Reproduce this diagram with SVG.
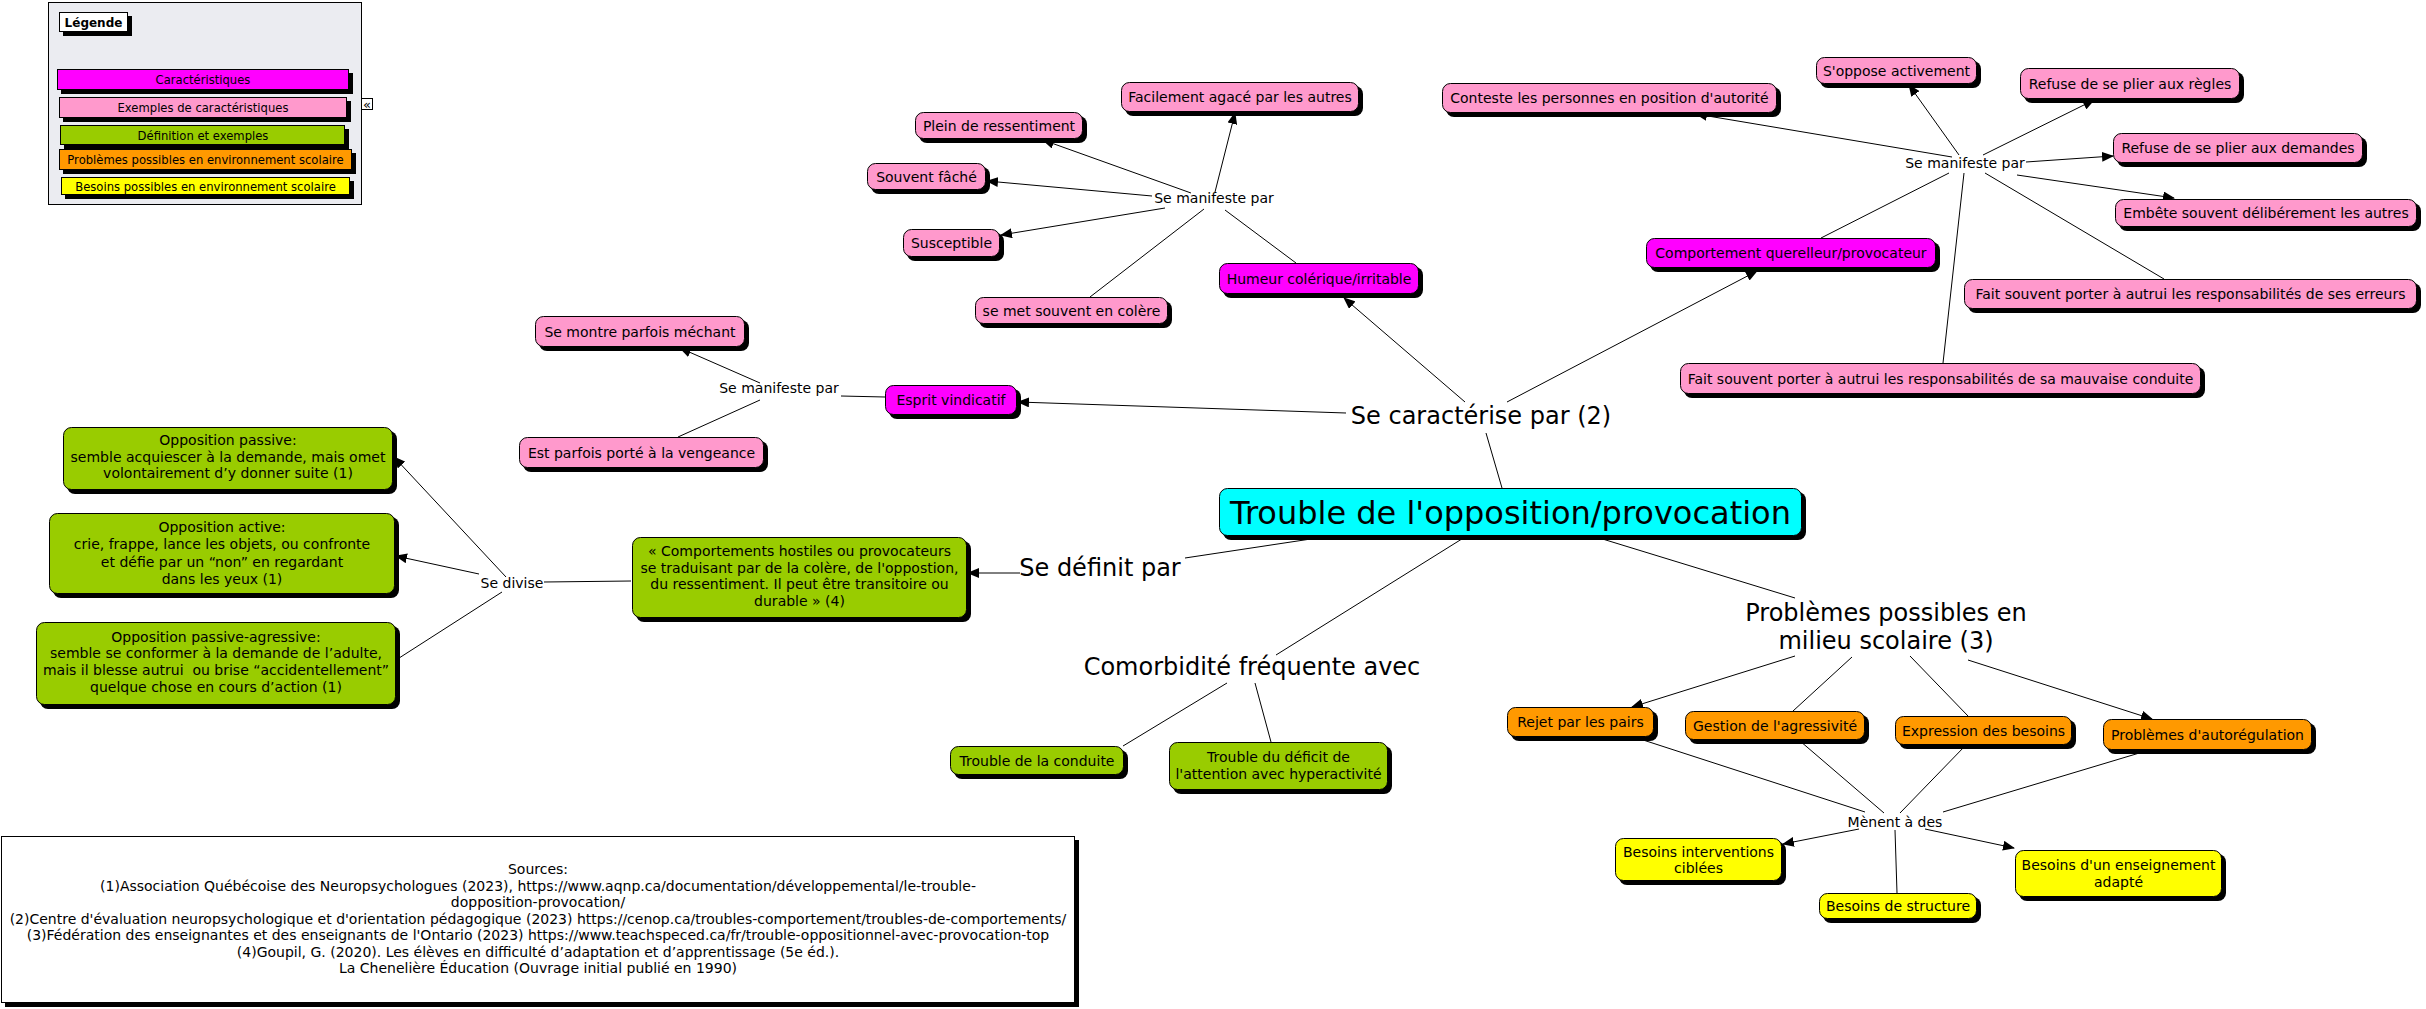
<svg xmlns="http://www.w3.org/2000/svg" width="2426" height="1009" viewBox="0 0 2426 1009">
<defs>
<style>
text{font-family:"DejaVu Sans",Verdana,"Liberation Sans",sans-serif;font-size:14px;fill:#000;text-anchor:middle}
.big{font-size:24px}
.huge{font-size:32px}
.lg{font-size:11.6px}
.sh{fill:#000}
.b{stroke:#000;stroke-width:1}
.mag{fill:#FF00FF}
.pink{fill:#FF99CC}
.grn{fill:#99CC00}
.org{fill:#FF9900}
.yel{fill:#FFFF00}
.cyan{fill:#00FFFF}
.wht{fill:#FFFFFF}
#connectors line{stroke:#000;stroke-width:1;fill:none}
#connectors line.a{marker-end:url(#arr)}
</style>
<marker id="arr" markerWidth="12" markerHeight="10" refX="11" refY="5" orient="auto" markerUnits="userSpaceOnUse">
<path d="M0,0 L12,5 L0,10 z" fill="#000"/>
</marker>
</defs>
<rect x="0" y="0" width="2426" height="1009" fill="#FFFFFF"/>

<!-- Legend -->
<g id="legend">
<rect x="48.5" y="2.5" width="313" height="202" fill="#EBECF1" stroke="#000"/>
<rect class="sh" x="63" y="16" width="69" height="20"/>
<rect class="b wht" x="59.5" y="12.5" width="68" height="19"/>
<text x="93.5" y="27" style="font-weight:bold;font-size:12px">Légende</text>
<rect class="sh" x="61" y="73" width="292" height="21"/>
<rect class="b mag" x="57.5" y="69.5" width="291" height="20"/>
<text class="lg" x="203" y="84">Caractéristiques</text>
<rect class="sh" x="63" y="101" width="288" height="21"/>
<rect class="b pink" x="59.5" y="97.5" width="287" height="20"/>
<text class="lg" x="203" y="112">Exemples de caractéristiques</text>
<rect class="sh" x="64" y="129" width="285" height="20"/>
<rect class="b grn" x="60.5" y="125.5" width="284" height="19"/>
<text class="lg" x="203" y="139.5">Définition et exemples</text>
<rect class="sh" x="63" y="153" width="293" height="21"/>
<rect class="b org" x="59.5" y="149.5" width="292" height="20"/>
<text class="lg" x="205.5" y="164">Problèmes possibles en environnement scolaire</text>
<rect class="sh" x="65" y="181" width="289" height="18"/>
<rect class="b yel" x="61.5" y="177.5" width="288" height="17"/>
<text class="lg" x="205.5" y="190.5">Besoins possibles en environnement scolaire</text>
<rect x="361.5" y="98.5" width="11" height="11" fill="#FFF" stroke="#000"/>
<text x="367" y="108.5" style="font-size:13px">«</text>
</g>

<!-- Connectors -->
<g id="connectors">
<line x1="1296" y1="263" x2="1225" y2="210"/>
<line class="a" x1="1191" y1="193" x2="1043" y2="140"/>
<line class="a" x1="1215" y1="192" x2="1235" y2="113"/>
<line class="a" x1="1152" y1="196" x2="987" y2="181"/>
<line class="a" x1="1165" y1="208" x2="1001" y2="235"/>
<line x1="1204" y1="209" x2="1090" y2="297"/>

<line x1="1821" y1="238" x2="1949" y2="173"/>
<line class="a" x1="1952" y1="157" x2="1696" y2="114"/>
<line class="a" x1="1959" y1="155" x2="1909" y2="85"/>
<line class="a" x1="1983" y1="155" x2="2094" y2="100"/>
<line class="a" x1="2026" y1="162" x2="2113" y2="156"/>
<line class="a" x1="2017" y1="175" x2="2174" y2="198"/>
<line x1="1985" y1="173" x2="2164" y2="279"/>
<line x1="1964" y1="173" x2="1943" y2="363"/>

<line x1="885" y1="397" x2="841" y2="396"/>
<line class="a" x1="760" y1="383" x2="680" y2="348"/>
<line x1="760" y1="400" x2="678" y2="437"/>

<line x1="1502" y1="488" x2="1486" y2="433"/>
<line class="a" x1="1346" y1="413" x2="1018" y2="402"/>
<line class="a" x1="1465" y1="402" x2="1344" y2="298"/>
<line class="a" x1="1507" y1="402" x2="1757" y2="271"/>

<line x1="1324" y1="537" x2="1185" y2="558"/>
<line class="a" x1="1020" y1="573" x2="968" y2="573"/>
<line x1="631" y1="581" x2="544" y2="582"/>
<line class="a" x1="506" y1="577" x2="394" y2="457"/>
<line class="a" x1="479" y1="574" x2="396" y2="556"/>
<line x1="502" y1="592" x2="396" y2="660"/>

<line x1="1465" y1="537" x2="1276" y2="655"/>
<line x1="1227" y1="683" x2="1123" y2="746"/>
<line x1="1255" y1="683" x2="1271" y2="742"/>

<line x1="1596" y1="537" x2="1795" y2="598"/>
<line class="a" x1="1795" y1="656" x2="1632" y2="707"/>
<line x1="1852" y1="657" x2="1793" y2="711"/>
<line x1="1910" y1="656" x2="1968" y2="716"/>
<line class="a" x1="1968" y1="660" x2="2152" y2="719"/>

<line x1="1637" y1="738" x2="1865" y2="812"/>
<line x1="1800" y1="741" x2="1884" y2="813"/>
<line x1="1965" y1="746" x2="1900" y2="813"/>
<line x1="2146" y1="751" x2="1943" y2="812"/>
<line class="a" x1="1859" y1="829" x2="1783" y2="844"/>
<line x1="1895" y1="830" x2="1897" y2="893"/>
<line class="a" x1="1925" y1="829" x2="2014" y2="848"/>
</g>

<!-- Linking phrases -->
<g id="lp-manifeste-1"><text x="1214" y="203">Se manifeste par</text></g>
<g id="lp-manifeste-2"><text x="1965" y="168">Se manifeste par</text></g>
<g id="lp-manifeste-3"><text x="779" y="393">Se manifeste par</text></g>
<g id="lp-caracterise"><text class="big" x="1481" y="424">Se caractérise par (2)</text></g>
<g id="lp-definit"><text class="big" x="1100" y="576">Se définit par</text></g>
<g id="lp-divise"><text x="512" y="588">Se divise</text></g>
<g id="lp-comorbidite"><text class="big" x="1252" y="675">Comorbidité fréquente avec</text></g>
<g id="lp-problemes"><text class="big" x="1886" y="621">Problèmes possibles en</text><text class="big" x="1886" y="649">milieu scolaire (3)</text></g>
<g id="lp-menent"><text x="1895" y="827">Mènent à des</text></g>

<!-- Nodes -->
<g id="n-central">
<rect class="sh" x="1223" y="492" width="583" height="48" rx="8"/>
<rect class="b cyan" x="1219.5" y="488.5" width="582" height="47" rx="8"/>
<text class="huge" x="1510.5" y="523.5">Trouble de l'opposition/provocation</text>
</g>

<g id="n-facilement">
<rect class="sh" x="1125" y="86" width="238" height="30" rx="8"/>
<rect class="b pink" x="1121.5" y="82.5" width="237" height="29" rx="8"/>
<text x="1240" y="102">Facilement agacé par les autres</text>
</g>
<g id="n-plein">
<rect class="sh" x="919" y="116" width="168" height="27" rx="8"/>
<rect class="b pink" x="915.5" y="112.5" width="167" height="26" rx="8"/>
<text x="999" y="130.5">Plein de ressentiment</text>
</g>
<g id="n-fache">
<rect class="sh" x="871" y="167" width="119" height="27" rx="8"/>
<rect class="b pink" x="867.5" y="163.5" width="118" height="26" rx="8"/>
<text x="926.5" y="181.5">Souvent fâché</text>
</g>
<g id="n-susceptible">
<rect class="sh" x="907" y="233" width="97" height="28" rx="8"/>
<rect class="b pink" x="903.5" y="229.5" width="96" height="27" rx="8"/>
<text x="951.5" y="248">Susceptible</text>
</g>
<g id="n-colere">
<rect class="sh" x="979" y="301" width="193" height="27" rx="8"/>
<rect class="b pink" x="975.5" y="297.5" width="192" height="26" rx="8"/>
<text x="1071.5" y="315.5">se met souvent en colère</text>
</g>
<g id="n-humeur">
<rect class="sh" x="1223" y="267" width="200" height="31" rx="8"/>
<rect class="b mag" x="1219.5" y="263.5" width="199" height="30" rx="8"/>
<text x="1319" y="283.5">Humeur colérique/irritable</text>
</g>

<g id="n-conteste">
<rect class="sh" x="1446" y="87" width="335" height="30" rx="8"/>
<rect class="b pink" x="1442.5" y="83.5" width="334" height="29" rx="8"/>
<text x="1609.5" y="103">Conteste les personnes en position d'autorité</text>
</g>
<g id="n-oppose">
<rect class="sh" x="1820" y="61" width="161" height="27" rx="8"/>
<rect class="b pink" x="1816.5" y="57.5" width="160" height="26" rx="8"/>
<text x="1896.5" y="75.5">S'oppose activement</text>
</g>
<g id="n-regles">
<rect class="sh" x="2024" y="72" width="220" height="31" rx="8"/>
<rect class="b pink" x="2020.5" y="68.5" width="219" height="30" rx="8"/>
<text x="2130" y="88.5">Refuse de se plier aux règles</text>
</g>
<g id="n-demandes">
<rect class="sh" x="2117" y="137" width="250" height="30" rx="8"/>
<rect class="b pink" x="2113.5" y="133.5" width="249" height="29" rx="8"/>
<text x="2238" y="153">Refuse de se plier aux demandes</text>
</g>
<g id="n-embete">
<rect class="sh" x="2119" y="203" width="302" height="28" rx="8"/>
<rect class="b pink" x="2115.5" y="199.5" width="301" height="27" rx="8"/>
<text x="2266" y="218">Embête souvent délibérement les autres</text>
</g>
<g id="n-erreurs">
<rect class="sh" x="1968" y="283" width="453" height="30" rx="8"/>
<rect class="b pink" x="1964.5" y="279.5" width="452" height="29" rx="8"/>
<text x="2190.5" y="299">Fait souvent porter à autrui les responsabilités de ses erreurs</text>
</g>
<g id="n-conduite-mauvaise">
<rect class="sh" x="1684" y="367" width="521" height="31" rx="8"/>
<rect class="b pink" x="1680.5" y="363.5" width="520" height="30" rx="8"/>
<text x="1940.5" y="383.5">Fait souvent porter à autrui les responsabilités de sa mauvaise conduite</text>
</g>
<g id="n-comportement">
<rect class="sh" x="1650" y="242" width="290" height="30" rx="8"/>
<rect class="b mag" x="1646.5" y="238.5" width="289" height="29" rx="8"/>
<text x="1791" y="258">Comportement querelleur/provocateur</text>
</g>

<g id="n-mechant">
<rect class="sh" x="539" y="320" width="210" height="31" rx="8"/>
<rect class="b pink" x="535.5" y="316.5" width="209" height="30" rx="8"/>
<text x="640" y="336.5">Se montre parfois méchant</text>
</g>
<g id="n-vengeance">
<rect class="sh" x="523" y="441" width="245" height="31" rx="8"/>
<rect class="b pink" x="519.5" y="437.5" width="244" height="30" rx="8"/>
<text x="641.5" y="457.5">Est parfois porté à la vengeance</text>
</g>
<g id="n-esprit">
<rect class="sh" x="889" y="389" width="132" height="30" rx="8"/>
<rect class="b mag" x="885.5" y="385.5" width="131" height="29" rx="8"/>
<text x="951" y="405">Esprit vindicatif</text>
</g>

<g id="n-definition">
<rect class="sh" x="636" y="541" width="335" height="81" rx="8"/>
<rect class="b grn" x="632.5" y="537.5" width="334" height="80" rx="8"/>
<text x="799.5" y="556">« Comportements hostiles ou provocateurs</text>
<text x="799.5" y="573">se traduisant par de la colère, de l'oppostion,</text>
<text x="799.5" y="589">du ressentiment. Il peut être transitoire ou</text>
<text x="799.5" y="606">durable » (4)</text>
</g>
<g id="n-passive">
<rect class="sh" x="67" y="431" width="330" height="63" rx="8"/>
<rect class="b grn" x="63.5" y="427.5" width="329" height="62" rx="8"/>
<text x="228" y="445">Opposition passive:</text>
<text x="228" y="462">semble acquiescer à la demande, mais omet</text>
<text x="228" y="478">volontairement d’y donner suite (1)</text>
</g>
<g id="n-active">
<rect class="sh" x="53" y="517" width="346" height="81" rx="8"/>
<rect class="b grn" x="49.5" y="513.5" width="345" height="80" rx="8"/>
<text x="222" y="532">Opposition active:</text>
<text x="222" y="549">crie, frappe, lance les objets, ou confronte</text>
<text x="222" y="567">et défie par un “non” en regardant</text>
<text x="222" y="584">dans les yeux (1)</text>
</g>
<g id="n-passive-agressive">
<rect class="sh" x="40" y="626" width="360" height="83" rx="8"/>
<rect class="b grn" x="36.5" y="622.5" width="359" height="82" rx="8"/>
<text x="216" y="642">Opposition passive-agressive:</text>
<text x="216" y="658">semble se conformer à la demande de l’adulte,</text>
<text x="216" y="675" style="white-space:pre">mais il blesse autrui  ou brise “accidentellement”</text>
<text x="216" y="692">quelque chose en cours d’action (1)</text>
</g>

<g id="n-trouble-conduite">
<rect class="sh" x="954" y="750" width="174" height="29" rx="8"/>
<rect class="b grn" x="950.5" y="746.5" width="173" height="28" rx="8"/>
<text x="1037" y="765.5">Trouble de la conduite</text>
</g>
<g id="n-tdah">
<rect class="sh" x="1173" y="746" width="219" height="48" rx="8"/>
<rect class="b grn" x="1169.5" y="742.5" width="218" height="47" rx="8"/>
<text x="1278.5" y="762">Trouble du déficit de</text>
<text x="1278.5" y="779">l'attention avec hyperactivité</text>
</g>

<g id="n-rejet">
<rect class="sh" x="1511" y="711" width="147" height="30" rx="8"/>
<rect class="b org" x="1507.5" y="707.5" width="146" height="29" rx="8"/>
<text x="1580.5" y="727">Rejet par les pairs</text>
</g>
<g id="n-gestion">
<rect class="sh" x="1689" y="715" width="180" height="29" rx="8"/>
<rect class="b org" x="1685.5" y="711.5" width="179" height="28" rx="8"/>
<text x="1775" y="730.5">Gestion de l'agressivité</text>
</g>
<g id="n-expression">
<rect class="sh" x="1899" y="720" width="177" height="29" rx="8"/>
<rect class="b org" x="1895.5" y="716.5" width="176" height="28" rx="8"/>
<text x="1983.5" y="735.5">Expression des besoins</text>
</g>
<g id="n-autoregulation">
<rect class="sh" x="2107" y="723" width="209" height="31" rx="8"/>
<rect class="b org" x="2103.5" y="719.5" width="208" height="30" rx="8"/>
<text x="2207.5" y="739.5">Problèmes d'autorégulation</text>
</g>

<g id="n-interventions">
<rect class="sh" x="1619" y="842" width="167" height="43" rx="8"/>
<rect class="b yel" x="1615.5" y="838.5" width="166" height="42" rx="8"/>
<text x="1698.5" y="857">Besoins interventions</text>
<text x="1698.5" y="873">ciblées</text>
</g>
<g id="n-structure">
<rect class="sh" x="1823" y="897" width="158" height="26" rx="8"/>
<rect class="b yel" x="1819.5" y="893.5" width="157" height="25" rx="8"/>
<text x="1898" y="911">Besoins de structure</text>
</g>
<g id="n-enseignement">
<rect class="sh" x="2019" y="854" width="207" height="47" rx="8"/>
<rect class="b yel" x="2015.5" y="850.5" width="206" height="46" rx="8"/>
<text x="2118.5" y="870">Besoins d'un enseignement</text>
<text x="2118.5" y="887">adapté</text>
</g>

<g id="n-sources">
<rect class="sh" x="5" y="840" width="1074" height="167"/>
<rect class="b wht" x="1.5" y="836.5" width="1073" height="166"/>
<text x="538" y="874">Sources:</text>
<text x="538" y="891">(1)Association Québécoise des Neuropsychologues (2023), https://www.aqnp.ca/documentation/développemental/le-trouble-</text>
<text x="538" y="907">dopposition-provocation/</text>
<text x="538" y="924">(2)Centre d'évaluation neuropsychologique et d'orientation pédagogique (2023) https://cenop.ca/troubles-comportement/troubles-de-comportements/</text>
<text x="538" y="940">(3)Fédération des enseignantes et des enseignants de l'Ontario (2023) https://www.teachspeced.ca/fr/trouble-oppositionnel-avec-provocation-top</text>
<text x="538" y="957">(4)Goupil, G. (2020). Les élèves en difficulté d’adaptation et d’apprentissage (5e éd.).</text>
<text x="538" y="973">La Chenelière Éducation (Ouvrage initial publié en 1990)</text>
</g>
</svg>
